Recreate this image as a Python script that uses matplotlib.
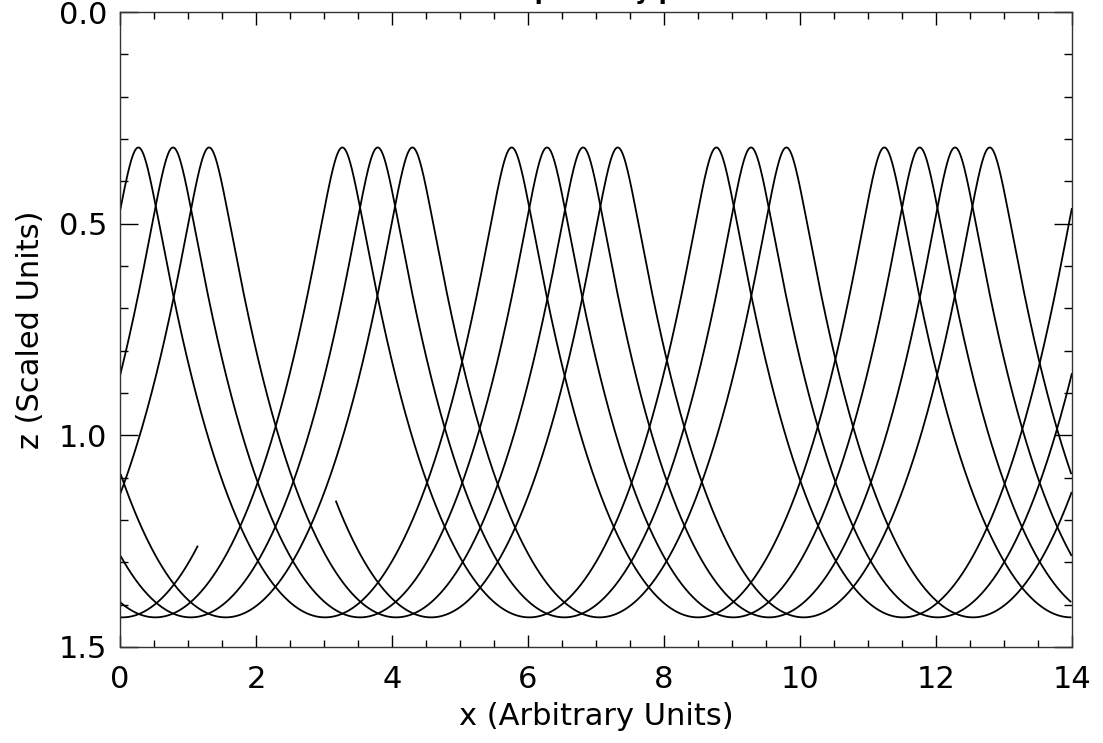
import numpy as np
import matplotlib
matplotlib.use("Agg")
import matplotlib.pyplot as plt
from matplotlib.ticker import MultipleLocator, FormatStrFormatter

plt.rcParams['font.family'] = ['DejaVu Sans']

# depth of the crests (top) and troughs (bottom) of every path
z_crest = 0.32
z_trough = 1.43
# crest positions (x) of each path (outer ones continue the path off the axes)
crests_1 = [-5.22, 0.27, 5.76, 11.24, 16.73]
crests_2 = [-4.71, 0.78, 6.28, 11.76, 17.25]
crests_3 = [-4.19, 1.31, 6.81, 12.28, 17.77]
crests_4 = [-2.23, 3.27, 8.77, 14.26]
crests_5 = [-1.71, 3.79, 9.28, 14.77]
crests_6 = [-1.19, 4.30, 9.80, 15.29]
crests_7 = [1.83, 7.32, 12.79, 18.28]
crests_8 = [-2.71, 2.78, 8.27]
path_crests = [crests_1, crests_2, crests_3, crests_4, crests_5, crests_6, crests_7, crests_8]
# visible x range of each path
path_from = [0.0, 0.0, 0.0, 0.0, 0.0, 0.0, 3.17, 0.0]
path_to = [14.0, 14.0, 14.0, 14.0, 14.0, 14.0, 14.0, 1.15]

# sharpness of the crests (trochoid shape)
r_sharp = 0.65


def path_xy(crests, n=600):
    xs, zs = [], []
    a = np.linspace(0, 2 * np.pi, n)
    for c0, c1 in zip(crests[:-1], crests[1:]):
        L = c1 - c0
        xs.append(c0 + L * (a - r_sharp * np.sin(a)) / (2 * np.pi))
        zs.append(z_crest + (z_trough - z_crest) * (1 - np.cos(a)) / 2)
    return np.concatenate(xs), np.concatenate(zs)


fig = plt.figure(figsize=(11.03, 7.43), dpi=100)
ax = fig.add_axes([120 / 1103, 1 - 647 / 743, 952 / 1103, 635 / 743])

for crests, x0, x1 in zip(path_crests, path_from, path_to):
    X, Z = path_xy(crests)
    m = (X >= x0) & (X <= x1)
    ax.plot(X[m], Z[m], color='black', lw=1.3, solid_capstyle='butt')

ax.set_xlim(0, 14)
ax.set_ylim(1.5, 0.0)
ax.xaxis.set_major_locator(MultipleLocator(2))
ax.xaxis.set_minor_locator(MultipleLocator(0.5))
ax.yaxis.set_major_locator(MultipleLocator(0.5))
ax.yaxis.set_minor_locator(MultipleLocator(0.1))
ax.yaxis.set_major_formatter(FormatStrFormatter('%.1f'))
ax.tick_params(which='both', direction='in', top=True, right=True, labelsize=22, color='black')
ax.tick_params(axis='y', which='major', length=13, width=1, pad=9)
ax.tick_params(axis='y', which='minor', length=6, width=1)
ax.tick_params(axis='x', which='major', length=9, width=1, pad=13)
ax.tick_params(axis='x', which='minor', length=5, width=1)
for s in ax.spines.values():
    s.set_linewidth(1)
    s.set_color('#333333')

ax.set_xlabel('x (Arbitrary Units)', fontsize=22, labelpad=6)
ax.set_ylabel('z (Scaled Units)', fontsize=22, labelpad=10)
fig.text(596 / 1103, 1.0 + 1.4 / 743, 'Wave paths by phase', ha='center', va='baseline',
         fontsize=17, fontweight='bold')

fig.savefig('out.png', dpi=100)
